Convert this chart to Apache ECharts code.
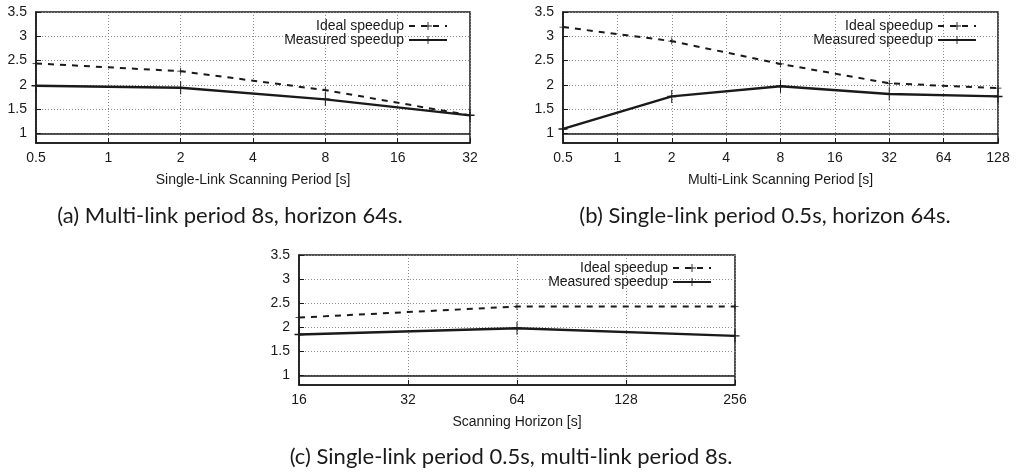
<!DOCTYPE html>
<html>
<head>
<meta charset="utf-8">
<script src="https://cdn.jsdelivr.net/npm/echarts@6/dist/echarts.min.js"></script>
<style>
  html, body { margin: 0; padding: 0; background: #fff; }
  #main { width: 1021px; height: 473px; }
</style>
</head>
<body>
<div id="main"></div>
<script>
// (a) single-link period sweep
var catsA = ['0.5', '1', '2', '4', '8', '16', '32'];
var pointsA = ['0.5', '2', '8', '32'];
var idealA = [2.44, 2.28, 1.89, 1.37];
var measuredA = [1.98, 1.94, 1.70, 1.37];

// (b) multi-link period sweep
var catsB = ['0.5', '1', '2', '4', '8', '16', '32', '64', '128'];
var pointsB = ['0.5', '2', '8', '32', '128'];
var idealB = [3.19, 2.90, 2.43, 2.03, 1.93];
var measuredB = [1.09, 1.76, 1.97, 1.81, 1.76];

// (c) scanning horizon sweep
var catsC = ['16', '32', '64', '128', '256'];
var pointsC = ['16', '64', '256'];
var idealC = [2.20, 2.43, 2.43];
var measuredC = [1.85, 1.98, 1.82];

var yTicks = [1, 1.5, 2, 2.5, 3, 3.5];
var yMin = 0.8, yMax = 3.5;
var baseline = 1;

var axisFont = 'Liberation Sans';
var ink = '#1a1a1a';
var plusPath = 'path://M4,0h1v4h4v1h-4v4h-1v-4h-4v-1h4z';

function zip(xs, ys) {
    return xs.map(function (x, i) { return [x, ys[i]]; });
}

function xAxisOf(idx, cats, name) {
    return {
        type: 'category', gridIndex: idx, data: cats, boundaryGap: false,
        name: name, nameLocation: 'middle', nameGap: 30,
        nameTextStyle: { fontFamily: axisFont, fontSize: 14, color: ink },
        axisLine: { show: true, lineStyle: { color: ink, width: 1.5 } },
        axisTick: { show: true, inside: true, length: 5, lineStyle: { color: ink } },
        axisLabel: { fontFamily: axisFont, fontSize: 14, color: ink, margin: 8 },
        splitLine: { show: true, lineStyle: { color: '#8a8a8a', type: [1, 2], width: 1 } }
    };
}

function yAxisOf(idx) {
    return {
        type: 'value', gridIndex: idx, min: yMin, max: yMax,
        axisLine: { show: true, lineStyle: { color: ink, width: 1.5 } },
        axisTick: { show: true, inside: true, length: 5, customValues: yTicks, lineStyle: { color: ink } },
        axisLabel: { fontFamily: axisFont, fontSize: 14, color: ink, margin: 9, customValues: yTicks },
        splitLine: { show: true, lineStyle: { color: '#8a8a8a', type: [1, 2], width: 1 } }
    };
}

function seriesOf(idx, pts, ideal, measured) {
    return [
        {
            name: 'Ideal speedup', type: 'line', xAxisIndex: idx, yAxisIndex: idx,
            data: zip(pts, ideal),
            symbol: plusPath, symbolSize: 7, showAllSymbol: true,
            itemStyle: { color: ink },
            lineStyle: { color: ink, width: 2, type: [6, 6] },
            z: 3
        },
        {
            name: 'Measured speedup', type: 'line', xAxisIndex: idx, yAxisIndex: idx,
            data: zip(pts, measured),
            symbol: plusPath, symbolSize: [9, 13], showAllSymbol: true,
            itemStyle: { color: ink },
            lineStyle: { color: ink, width: 2.4 },
            markLine: {
                silent: true, symbol: 'none', animation: false,
                label: { show: false },
                lineStyle: { color: ink, type: 'solid', width: 1.5 },
                data: [{ yAxis: baseline }]
            },
            z: 4
        }
    ];
}

function legendOf(top, right) {
    return {
        orient: 'vertical', align: 'right', top: top, right: right,
        itemWidth: 38, itemHeight: 10, itemGap: 0,
        textStyle: { fontFamily: axisFont, fontSize: 14, color: ink, lineHeight: 14 },
        data: ['Ideal speedup', 'Measured speedup']
    };
}

function caption(x, y, text) {
    return {
        type: 'text', x: x, y: y,
        style: {
            text: text, fill: ink, font: '22px Lato',
            textAlign: 'center', textVerticalAlign: 'middle'
        }
    };
}

var chart = echarts.init(document.getElementById('main'));
chart.setOption({
    animation: false,
    grid: [
        { left: 36, top: 12, width: 434, height: 131, show: true, borderColor: ink, borderWidth: 1.5 },
        { left: 563, top: 12, width: 435, height: 131, show: true, borderColor: ink, borderWidth: 1.5 },
        { left: 299, top: 255, width: 436, height: 130, show: true, borderColor: ink, borderWidth: 1.5 }
    ],
    legend: [legendOf(14, 568), legendOf(14, 39), legendOf(256, 304)],
    xAxis: [
        xAxisOf(0, catsA, 'Single-Link Scanning Period [s]'),
        xAxisOf(1, catsB, 'Multi-Link Scanning Period [s]'),
        xAxisOf(2, catsC, 'Scanning Horizon [s]')
    ],
    yAxis: [yAxisOf(0), yAxisOf(1), yAxisOf(2)],
    series: [].concat(
        seriesOf(0, pointsA, idealA, measuredA),
        seriesOf(1, pointsB, idealB, measuredB),
        seriesOf(2, pointsC, idealC, measuredC)
    ),
    graphic: [
        caption(230, 216, '(a) Multi-link period 8s, horizon 64s.'),
        caption(765, 216, '(b) Single-link period 0.5s, horizon 64s.'),
        caption(511, 457, '(c) Single-link period 0.5s, multi-link period 8s.')
    ]
});
</script>
</body>
</html>
